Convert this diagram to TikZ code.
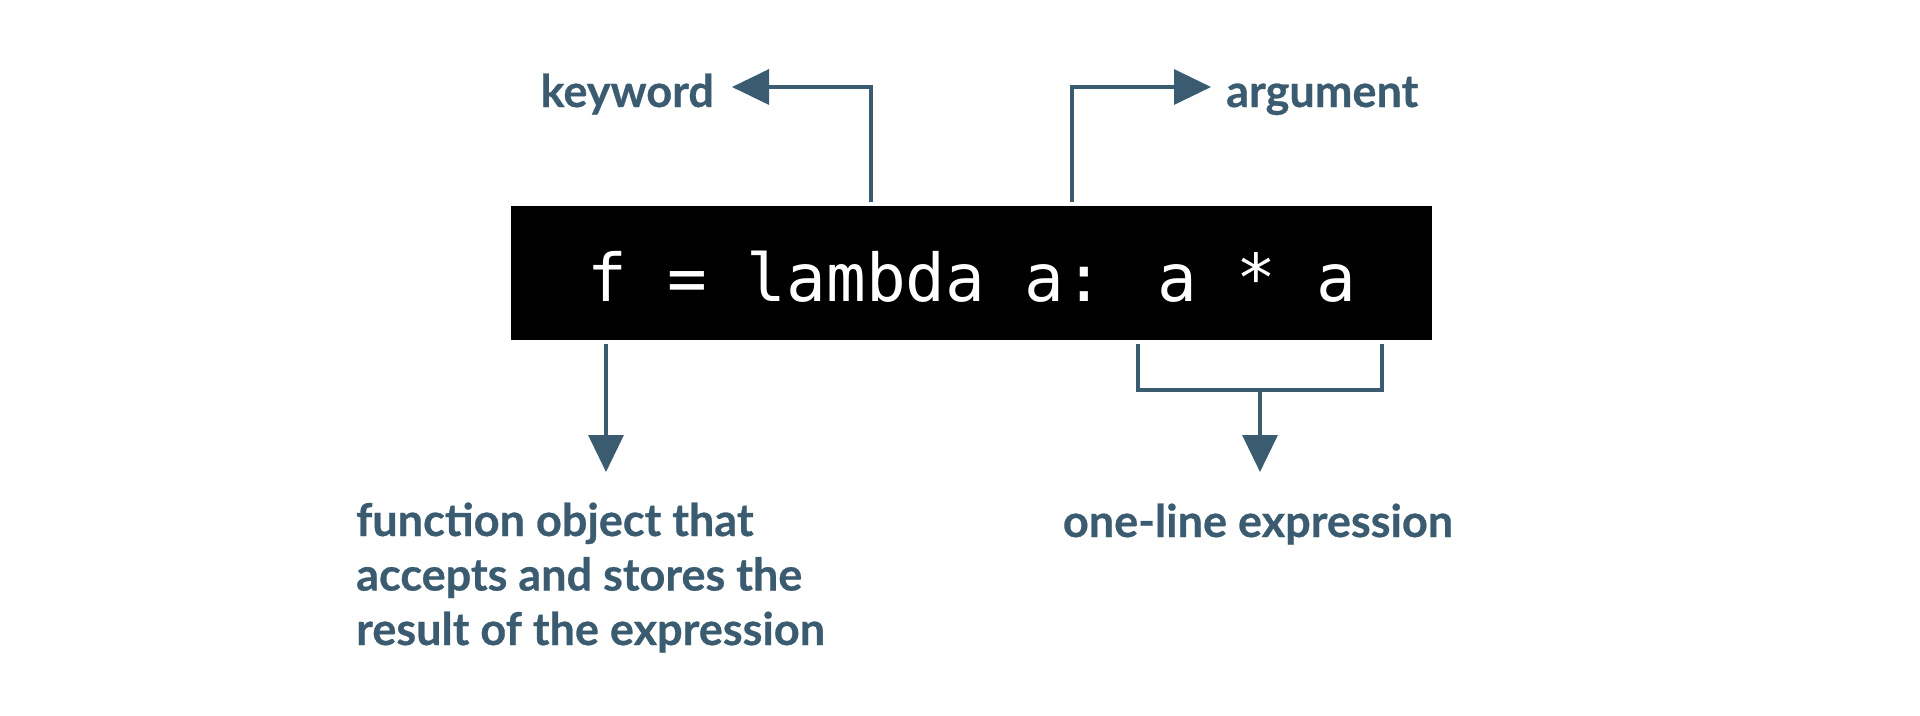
\documentclass[tikz,border=0pt]{standalone}
\usepackage{fontspec}
\usetikzlibrary{arrows.meta}
\newfontfamily\labfont{Lato}[BoldFeatures={FakeBold=0.6}]
\newfontfamily\codefont{DejaVu Sans Mono}
\definecolor{slate}{HTML}{3B5C70}
\tikzset{
  conn/.style={draw=slate, line width=3.4pt},
  arr/.style={conn, -{Triangle[length=37pt,width=35pt]}},
  lab/.style={text=slate, inner sep=0pt, font=\labfont\bfseries\fontsize{45pt}{54.5pt}\selectfont},
  codebox/.style={fill=black, minimum width=921pt, minimum height=134pt, inner sep=0pt, anchor=north west}
}
\begin{document}
\begin{tikzpicture}[x=1pt,y=-1pt]
\useasboundingbox (0,0) rectangle (1920,715);
\node[codebox] (box) at (511,206) {};
\node[anchor=base, text=white, inner sep=0pt, font=\codefont\fontsize{66pt}{80pt}\selectfont] (code) at (972,301) {f = lambda a: a * a};
\node[lab, anchor=base east] (kw) at (714,107) {keyword};
\node[lab, anchor=base west] (arg) at (1226,107) {argument};
\node[lab, anchor=base west, align=left] (fn) at (356,645) {function object that\\accepts and stores the\\result of the expression};
\node[lab, anchor=base] (ol) at (1258,537) {one-line expression};
\coordinate (kwstart) at (871,202);
\coordinate (argstart) at (1072,202);
\coordinate (fnstart) at (606,344);
\coordinate (bl) at (1138,344);
\coordinate (br) at (1382,344);
\coordinate (bmid) at (1260,390);
\draw[arr] (kwstart) -- (871,87) -- ([xshift=18pt]kw.east |- 0,87);
\draw[arr] (argstart) -- (1072,87) -- ([xshift=-15pt]arg.west |- 0,87);
\draw[arr] (fnstart) -- (606,472);
\draw[conn] (bl) -- (bl |- bmid) -- (br |- bmid) -- (br);
\draw[arr] (bmid) -- (1260,472);
\end{tikzpicture}
\end{document}
